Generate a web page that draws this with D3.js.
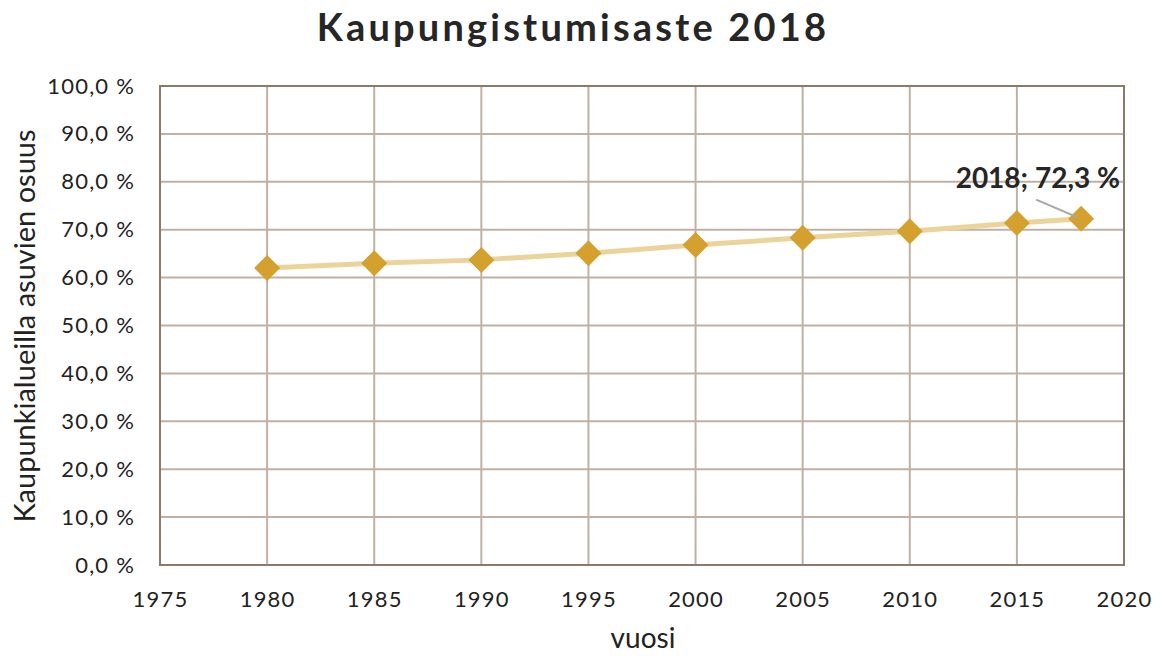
<!DOCTYPE html>
<html><head><meta charset="utf-8">
<script src="https://cdn.jsdelivr.net/npm/d3@7"></script>
<style>body{margin:0;background:#fff;} text{font-family:Lato,"Open Sans",sans-serif;}</style>
</head><body>
<svg id="c" width="1160" height="656"></svg>
<script>
const years = [1980, 1985, 1990, 1995, 2000, 2005, 2010, 2015, 2018];
const shares = [62.0, 63.0, 63.7, 65.1, 66.8, 68.3, 69.7, 71.4, 72.3];
const xTicks = [1975, 1980, 1985, 1990, 1995, 2000, 2005, 2010, 2015, 2020];
const yTicks = [0, 10, 20, 30, 40, 50, 60, 70, 80, 90, 100];
const titleText = "Kaupungistumisaste 2018";
const xTitle = "vuosi";
const yTitle = "Kaupunkialueilla asuvien osuus";
const labelText = "2018; 72,3 %";

const svg = d3.select("#c");
const L = 160, R = 1124, T = 86, B = 565;
const x = d3.scaleLinear().domain([1975, 2020]).range([L, R]);
const y = d3.scaleLinear().domain([0, 100]).range([B, T]);
const fmt = v => v.toFixed(1).replace(".", ",") + " %";

const grid = "#bfb1a5", border = "#8c7968";
svg.append("g").selectAll("line.v").data(xTicks.slice(1, -1)).join("line")
  .attr("x1", d => x(d)).attr("x2", d => x(d)).attr("y1", T).attr("y2", B)
  .attr("stroke", grid).attr("stroke-width", 2);
svg.append("g").selectAll("line.h").data(yTicks.slice(1, -1)).join("line")
  .attr("x1", L).attr("x2", R).attr("y1", d => y(d)).attr("y2", d => y(d))
  .attr("stroke", grid).attr("stroke-width", 2);
svg.append("rect").attr("x", L).attr("y", T).attr("width", R - L).attr("height", B - T)
  .attr("fill", "none").attr("stroke", border).attr("stroke-width", 2);

const yAxis = svg.append("g").attr("transform", `translate(${L},0)`)
  .call(d3.axisLeft(y).tickValues(yTicks).tickFormat(fmt).tickSize(0).tickPadding(25));
yAxis.select(".domain").remove();
yAxis.selectAll("text").attr("font-size", 22).attr("letter-spacing", 1.2).attr("fill", "#222").attr("font-family", "Lato,'Open Sans',sans-serif");
const xAxis = svg.append("g").attr("transform", `translate(0,${B})`)
  .call(d3.axisBottom(x).tickValues(xTicks).tickFormat(d3.format("d")).tickSize(0).tickPadding(26));
xAxis.select(".domain").remove();
xAxis.selectAll("text").attr("font-size", 22).attr("letter-spacing", 1.2).attr("fill", "#222").attr("font-family", "Lato,'Open Sans',sans-serif");

svg.append("path").datum(years.map((d, i) => [d, shares[i]]))
  .attr("d", d3.line().x(d => x(d[0])).y(d => y(d[1])))
  .attr("fill", "none").attr("stroke", "#ecd39a").attr("stroke-width", 5);

svg.append("g").selectAll("path").data(years.map((d, i) => [d, shares[i]])).join("path")
  .attr("transform", d => `translate(${x(d[0])},${y(d[1])})`)
  .attr("d", "M0,-13L13,0L0,13L-13,0Z").attr("fill", "#d4a02e");

const lx = x(2018), ly = y(72.3);
svg.append("line").attr("x1", lx - 45).attr("y1", ly - 19).attr("x2", lx - 3).attr("y2", ly - 1)
  .attr("stroke", "#a6a6a6").attr("stroke-width", 2);
svg.append("text").attr("x", 1120).attr("y", 188).attr("text-anchor", "end")
  .attr("font-size", 28).attr("font-weight", "bold").attr("fill", "#262626").text(labelText);

svg.append("text").attr("x", 573).attr("y", 41).attr("text-anchor", "middle")
  .attr("font-size", 38).attr("font-weight", "bold").attr("letter-spacing", 3.2).attr("fill", "#262626").text(titleText);
svg.append("text").attr("x", 643).attr("y", 648).attr("text-anchor", "middle")
  .attr("font-size", 28).attr("fill", "#222").text(xTitle);
svg.append("text").attr("transform", "translate(35,326) rotate(-90)").attr("text-anchor", "middle")
  .attr("font-size", 29).attr("fill", "#222").text(yTitle);
</script>
</body></html>
